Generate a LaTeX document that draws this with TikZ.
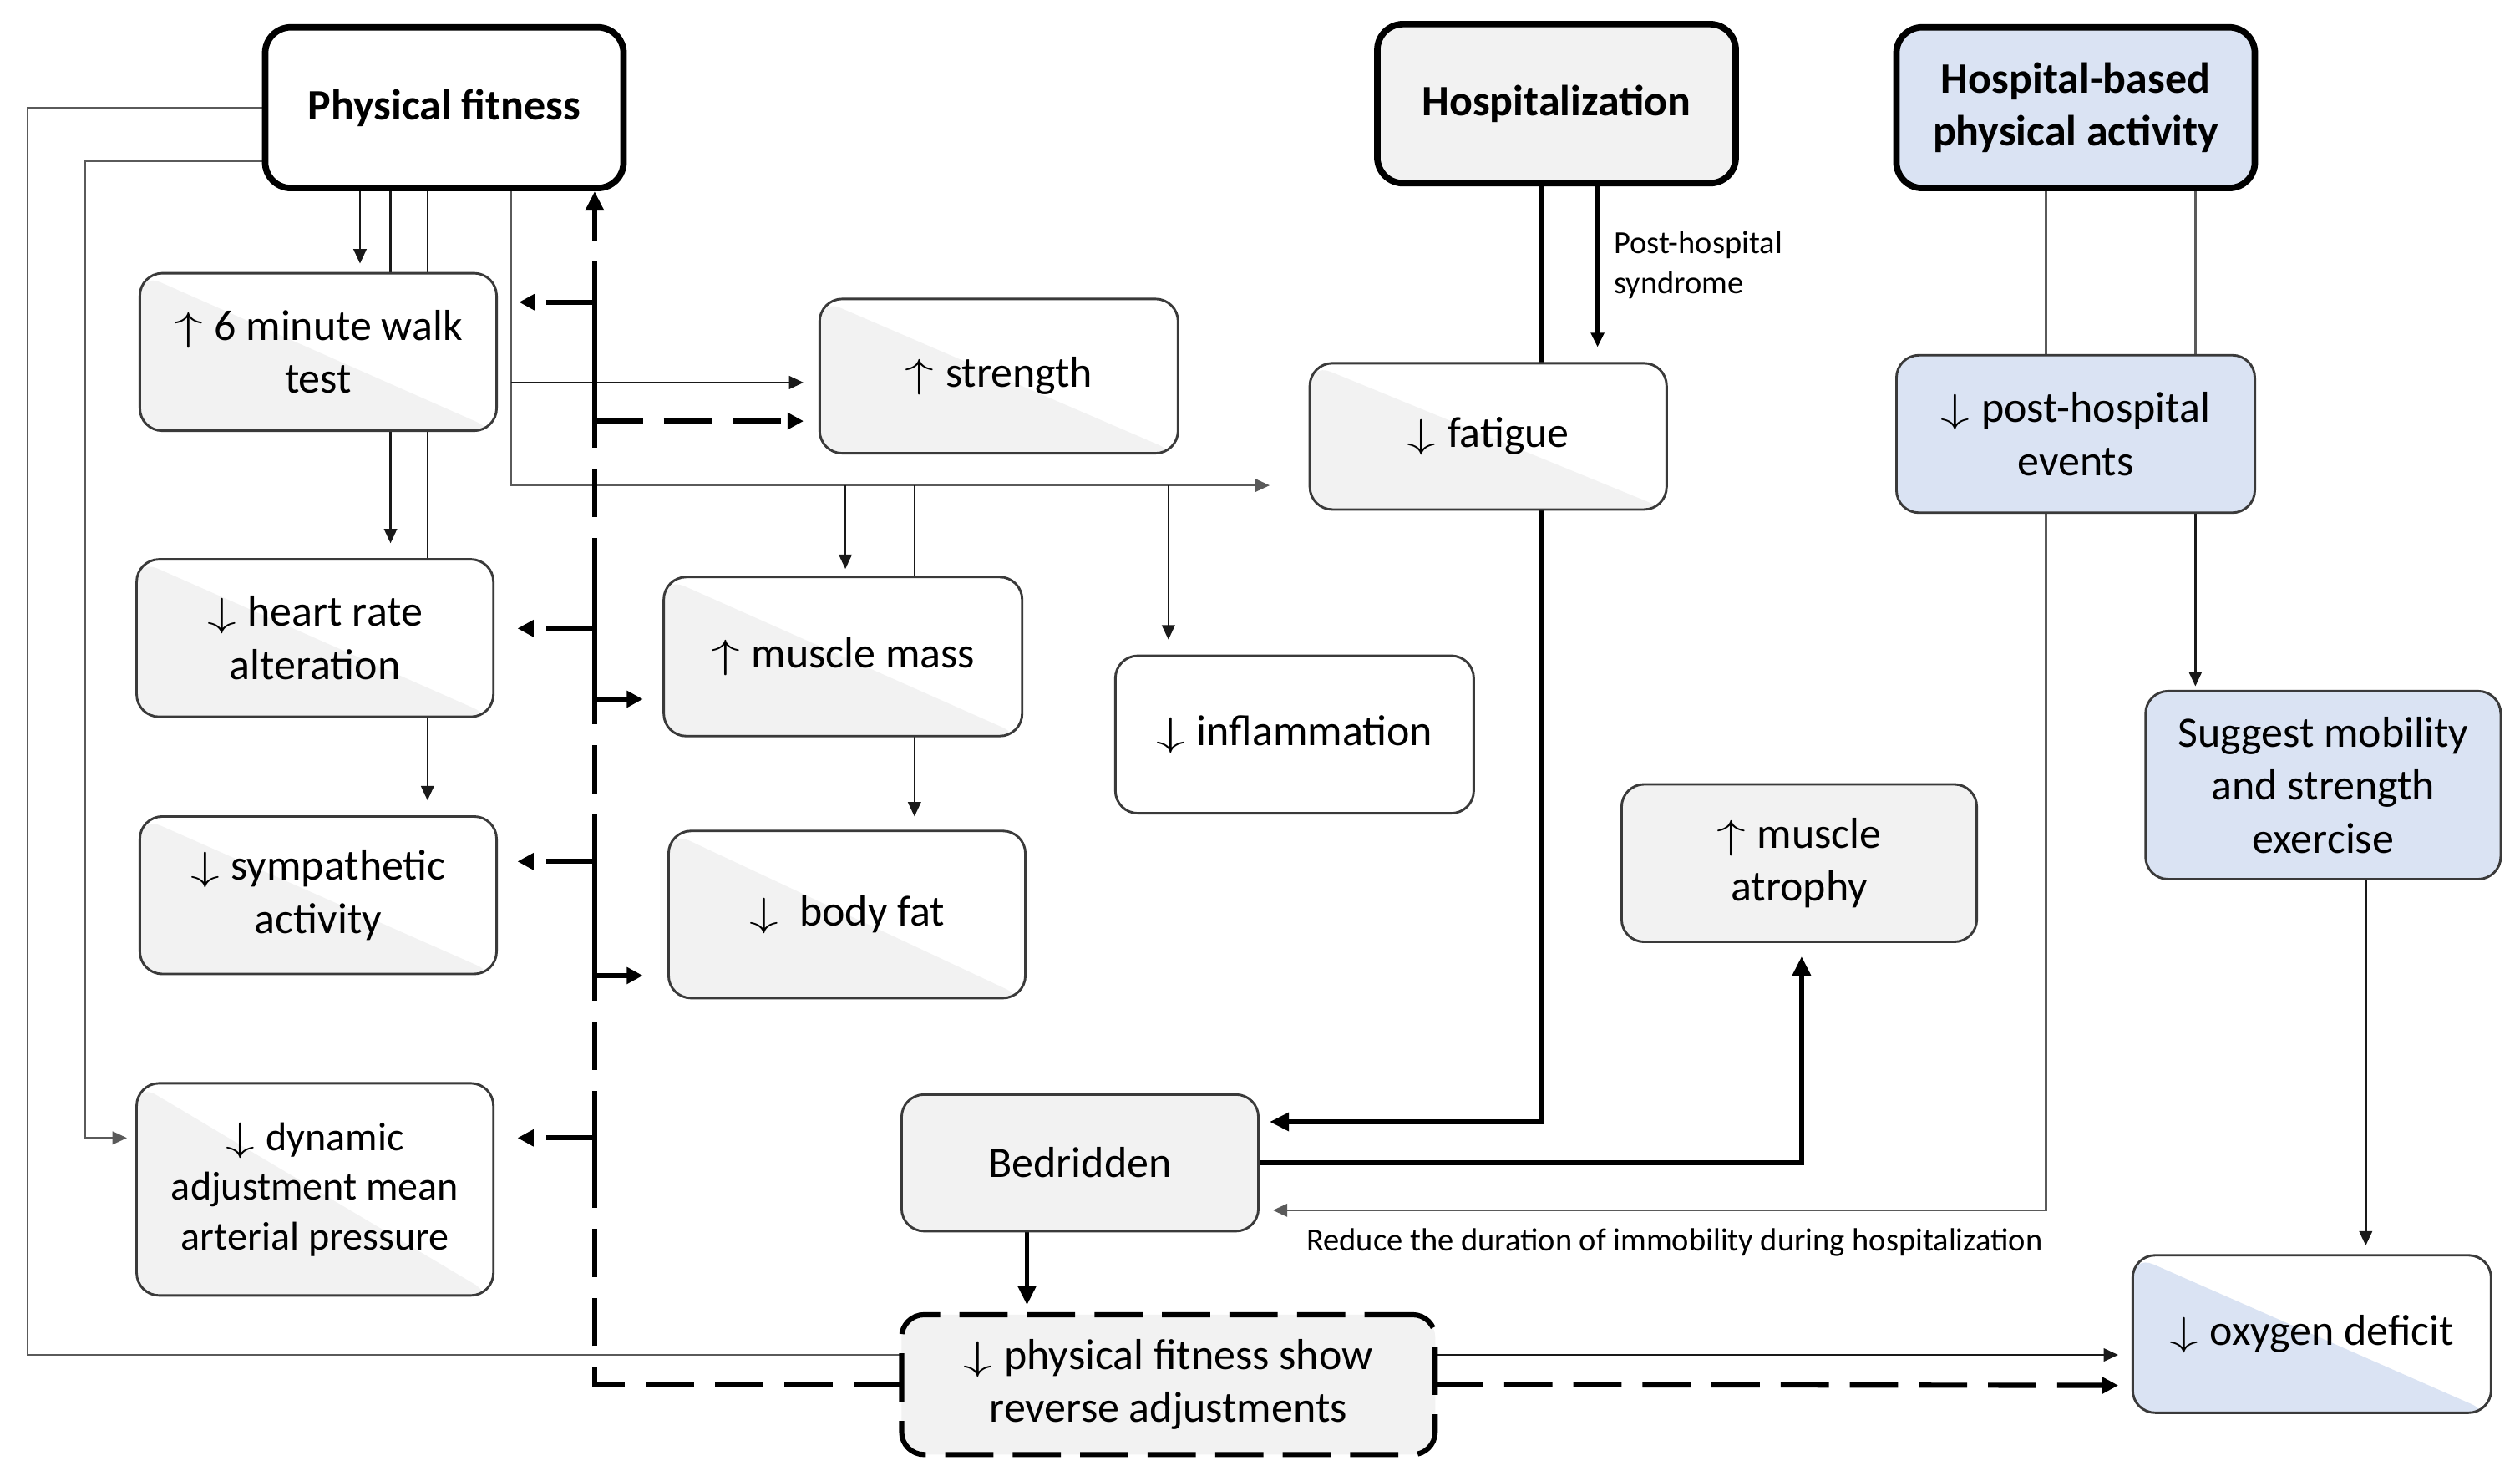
\documentclass[tikz,border=0pt]{standalone}
\usepackage{fontspec}
\usepackage{graphicx}
\setmainfont{Carlito}
\usetikzlibrary{arrows.meta,backgrounds}
\definecolor{gfill}{HTML}{F2F2F2}
\definecolor{bfill}{HTML}{DAE3F3}
\definecolor{bcol}{HTML}{3A3A3A}
\definecolor{lgray}{HTML}{5A5A5A}
\newcommand\myup{\scalebox{1.45}[1]{$\uparrow$}\kern1pt}
\newcommand\mydn{\scalebox{1.45}[1]{$\downarrow$}\kern1pt}
\newcommand\fsz{\fontsize{27}{33}\selectfont}
\newcommand\fsm{\fontsize{20}{25}\selectfont}
\begin{document}
\begin{tikzpicture}[x=1pt,y=-1pt,
  box/.style={draw=bcol, line width=1.5pt, rounded corners=14pt, align=center, inner sep=3pt, outer sep=0pt, font=\fsz, text=black},
  half/.style={box, fill=white, path picture={\fill[#1] (path picture bounding box.north west) -- (path picture bounding box.south west) -- (path picture bounding box.south east) -- cycle;}},
  half/.default=gfill,
  ttl/.style={box, draw=black, line width=4pt, rounded corners=16pt, font=\fsz\bfseries},
  sz/.style 2 args={minimum width=#1pt, minimum height=#2pt},
  ln/.style={line width=1.3pt, draw=black!90},
  gl/.style={line width=1.2pt, draw=lgray},
  tk/.style={line width=3pt, draw=black},
  dsh/.style={line width=3.2pt, draw=black, dash pattern=on 30pt off 13pt},
  stub/.style={line width=3.2pt, draw=black, line cap=rect},
  arT/.style={-{Triangle[length=9pt,width=8pt]}},
  arD/.style={-{Triangle[length=10pt,width=10pt]}},
  arK/.style={-{Triangle[length=12pt,width=11pt]}}
]
\useasboundingbox (0,0) rectangle (1568,921);

% ---------- nodes ----------
\node[ttl, fill=white, sz={223}{100}] (pf) at (276.5,67) {Physical fitness};
\node[ttl, fill=gfill, sz={223}{99}] (hosp) at (968.5,64.5) {Hospitalization};
\node[ttl, fill=bfill, sz={223}{100}] (hbpa) at (1291.5,67) {Hospital-based\\physical activity};
\node[half, sz={222}{98}] (smwt) at (198,219) {\myup{} 6 minute walk\\test};
\node[half, sz={223}{96}] (str) at (621.5,234) {\myup{} strength};
\node[half, sz={222}{91}] (fat) at (926,271.5) {\mydn{} fatigue};
\node[box, fill=bfill, sz={223}{98}] (phe) at (1291.5,270) {\mydn{} post-hospital\\events};
\node[half, sz={222}{98}] (hr) at (196,397) {\mydn{} heart rate\\alteration};
\node[half, sz={223}{99}] (mm) at (524.5,408.5) {\myup{} muscle mass};
\node[box, fill=white, sz={223}{98}] (infl) at (805.5,457) {\mydn{} inflammation};
\node[half, sz={222}{98}] (symp) at (198,557) {\mydn{} sympathetic\\activity};
\node[half, sz={222}{104}] (bf) at (527,569) {\mydn{}\ \ body fat};
\node[box, fill=gfill, sz={221}{98}] (atr) at (1119.5,537) {\myup{} muscle\\atrophy};
\node[box, fill=bfill, sz={221}{117}] (sug) at (1445.5,488.5) {Suggest mobility\\and strength\\exercise};
\node[half, sz={222}{132}, font=\fontsize{25}{31}\selectfont] (dyn) at (196,740) {\mydn{} dynamic\\adjustment mean\\arterial pressure};
\node[box, fill=gfill, sz={222}{85}] (bed) at (672,723.5) {Bedridden};
\node[box, fill=gfill, sz={332}{87}, line width=3.2pt, dash pattern=on 30pt off 12pt, draw=black] (rev) at (727,861.5) {\mydn{} physical fitness show\\reverse adjustments};
\node[half=bfill, sz={223}{98}] (oxy) at (1438.5,830) {\mydn{} oxygen deficit};

\node[font=\fsm, align=left, anchor=west, inner sep=0pt] (lab1) at (1004,165) {Post-hospital\\syndrome};
\node[font=\fsm, inner sep=0pt] (lab2) at (1042,773) {Reduce the duration of immobility during hospitalization};

% ---------- connectors ----------
\begin{pgfonlayer}{background}
\fill[white] (0,0) rectangle (1568,921);
% physical fitness downwards
\draw[ln,arT,shorten >=6pt] ([xshift=-52.5pt]pf.south) -- ([xshift=26pt]smwt.north);
\draw[ln,arT,shorten >=10pt] ([xshift=-33.5pt]pf.south) -- ([xshift=47pt]hr.north);
\draw[ln,arT,shorten >=10pt] ([xshift=-10.5pt]pf.south) -- ([xshift=68pt]symp.north);
\draw[gl,arT,shorten >=25pt] ([xshift=41.5pt]pf.south) |- ([yshift=-30.5pt]fat.west);
\coordinate (g1) at (318,238);
\coordinate (g2) at (526,302);
\coordinate (g3) at (569,302);
\coordinate (g4) at (727,302);
\draw[ln,arT,shorten >=10pt] (g1) -- ([yshift=-4pt]str.west);
\draw[ln,arT,shorten >=5pt] (g2) -- ([xshift=1.5pt]mm.north);
\draw[ln,arT,shorten >=9pt] (g3) -- ([xshift=42pt]bf.north);
\draw[ln,arT,shorten >=10pt] (g4) -- ([xshift=-78.5pt]infl.north);
% left loops
\draw[gl] (pf.west) -- ++(-148,0) |- ([yshift=18.5pt]rev.west);
\draw[gl,arT,shorten >=6pt] ([yshift=-33pt]pf.west) -- ++(-112,0) |- ([yshift=32pt]dyn.west);
% dashed feedback
\draw[dsh,arK,shorten >=2pt] (rev.west) -| ([xshift=93.5pt]pf.south);
\coordinate (d1) at (370,188);
\coordinate (d2) at (370,262);
\coordinate (d3) at (370,391);
\coordinate (d4) at (370,435);
\coordinate (d5) at (370,536);
\coordinate (d6) at (370,607);
\coordinate (d7) at (370,708);
\draw[stub] (d1) -- ++(0,28);
\draw[stub] (d2) -- ++(0,-28);
\draw[stub] (d3) -- ++(0,-28);
\draw[stub] (d4) -- ++(0,-28);
\draw[stub] (d5) -- ++(0,28);
\draw[stub] (d6) -- ++(0,-28);
\draw[stub] (d7) -- ++(0,28);
\draw[dsh,arD,shorten >=14pt] (d1) -- ([yshift=31pt]smwt.east);
\draw[dsh,arD,shorten >=10pt] (d2) -- ([yshift=-28pt]str.west);
\draw[dsh,arD,shorten >=15pt] (d3) -- ([yshift=6pt]hr.east);
\draw[dsh,arD,shorten >=13pt] (d4) -- ([yshift=-26.5pt]mm.west);
\draw[dsh,arD,shorten >=13pt] (d5) -- ([yshift=21pt]symp.east);
\draw[dsh,arD,shorten >=16pt] (d6) -- ([yshift=-38pt]bf.west);
\draw[dsh,arD,shorten >=15pt] (d7) -- ([yshift=32pt]dyn.east);
% hospitalization
\draw[tk,arK,shorten >=7pt] ([xshift=-9.5pt]hosp.south) |- ([yshift=25.5pt]bed.east);
\draw[line width=2.5pt,arT,shorten >=10pt] ([xshift=25.5pt]hosp.south) -- ([xshift=68pt]fat.north);
\draw[tk,arK,shorten >=9pt] (bed.east) -| ([xshift=1.5pt]atr.south);
\draw[tk,arK,shorten >=6pt] ([xshift=-33pt]bed.south) -- ([xshift=-88pt]rev.north);
% hospital-based physical activity
\draw[gl] ([xshift=-18.5pt]hbpa.south) -- ([xshift=-18.5pt]phe.north);
\draw[gl] ([xshift=74.5pt]hbpa.south) -- ([xshift=74.5pt]phe.north);
\draw[gl,arT,shorten >=9pt] ([xshift=-18.5pt]phe.south) |- ([yshift=-29.5pt]bed.east);
\draw[ln,arT,shorten >=3pt] ([xshift=74.5pt]phe.south) -- ([xshift=-79.5pt]sug.north);
\draw[ln,arT,shorten >=6pt] ([xshift=26.5pt]sug.south) -- ([xshift=33.5pt]oxy.north);
% to oxygen deficit
\draw[ln,arT,shorten >=9pt] ([yshift=18.5pt]rev.east) -- ([yshift=-13pt]oxy.west);
\draw[dsh,arD,shorten >=9pt] (rev.east) -- ([yshift=-32pt]oxy.west);
\end{pgfonlayer}
\end{tikzpicture}
\end{document}
